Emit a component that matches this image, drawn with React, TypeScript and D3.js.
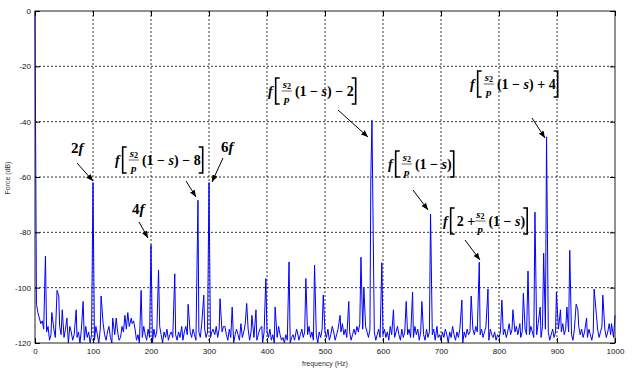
import React, { useEffect, useRef } from "react"
import * as d3 from "d3"

const width = 641
const height = 370

// axis ticks
const xTicks = [0, 100, 200, 300, 400, 500, 600, 700, 800, 900, 1000]
const yTicks = [0, -20, -40, -60, -80, -100, -120]

// noise floor, one value every 2.5 Hz from 0 to 1000 Hz (dB), 20 values per row = 50 Hz
const noiseStep = 2.5
const noiseFloor = [
	-104, -106, -109, -111, -113, -112, -115, -118, -116, -114, -119, -117, -113, -115, -118, -120, -116, -114, -117, -119,
	-118, -115, -117, -120, -114, -116, -119, -117, -113, -118, -116, -120, -115, -117, -119, -114, -118, -116, -120, -117,
	-116, -119, -114, -117, -120, -115, -118, -113, -117, -119, -116, -114, -118, -120, -115, -117, -113, -116, -119, -118,
	-114, -116, -113, -115, -112, -114, -116, -113, -117, -115, -119, -117, -120, -116, -118, -114, -117, -119, -115, -118,
	-117, -120, -115, -118, -116, -119, -114, -117, -120, -116, -118, -115, -119, -117, -116, -118, -114, -117, -119, -116,
	-118, -115, -119, -116, -114, -117, -113, -116, -118, -115, -117, -119, -114, -116, -118, -113, -117, -115, -118, -116,
	-115, -118, -116, -119, -117, -114, -118, -115, -120, -116, -118, -114, -117, -119, -115, -118, -116, -120, -117, -115,
	-117, -119, -115, -118, -116, -113, -117, -115, -119, -116, -114, -118, -116, -119, -117, -115, -118, -120, -116, -114,
	-116, -118, -115, -119, -117, -120, -116, -118, -114, -117, -119, -118, -120, -117, -119, -116, -120, -118, -117, -119,
	-118, -116, -119, -117, -115, -118, -116, -120, -117, -114, -118, -116, -119, -115, -117, -120, -116, -118, -115, -117,
	-116, -118, -115, -119, -117, -114, -116, -119, -117, -115, -118, -116, -113, -117, -115, -118, -114, -116, -119, -117,
	-115, -117, -114, -116, -113, -117, -115, -118, -114, -116, -118, -115, -117, -114, -116, -119, -117, -115, -118, -116,
	-117, -115, -118, -116, -119, -114, -117, -115, -118, -116, -114, -117, -119, -115, -118, -116, -113, -117, -115, -118,
	-116, -118, -114, -117, -115, -119, -116, -114, -117, -119, -115, -118, -116, -120, -117, -115, -119, -116, -118, -117,
	-119, -116, -118, -115, -117, -120, -116, -118, -114, -117, -119, -116, -118, -115, -117, -120, -116, -118, -115, -117,
	-116, -118, -115, -117, -114, -116, -119, -117, -115, -118, -116, -114, -117, -119, -115, -117, -118, -116, -119, -117,
	-118, -116, -119, -117, -115, -118, -116, -113, -117, -115, -118, -116, -114, -117, -115, -118, -116, -113, -115, -117,
	-115, -117, -114, -116, -118, -115, -117, -113, -116, -118, -114, -117, -115, -118, -116, -119, -117, -115, -118, -116,
	-117, -115, -118, -116, -113, -117, -115, -118, -116, -114, -117, -119, -115, -118, -116, -114, -117, -115, -118, -116,
	-116, -118, -115, -117, -119, -116, -114, -117, -115, -118, -116, -114, -117, -115, -118, -116, -113, -117, -115, -118,
	-110,
]

// spectral peaks [frequency Hz, level dB]
const peaks: [number, number][] = [
	[0, 0], [18, -88.6], [29, -109], [38, -101], [41, -103], [47, -108], [55, -111], [71, -108], [83, -105],
	[100, -62], [114, -103], [134, -111], [140, -111], [155, -110], [160, -109], [166, -111], [170, -112],
	[183, -101], [200, -84.5], [213, -93.6], [241, -95], [253, -114], [264, -106], [281, -68.4], [291, -102.7],
	[300, -62], [307, -115], [319, -104], [325, -114], [340, -107], [355, -113], [365, -105.7], [374, -110],
	[381, -108], [391, -114], [398, -96.7], [414, -107], [438, -90.7], [451, -115], [467, -96.7], [482, -91.8],
	[497, -102.7], [526, -110], [541, -105], [562, -89], [567, -100], [579, -60], [581, -39.5], [583, -78],
	[598, -91], [618, -108], [640, -105], [651, -101.6], [667, -105], [682, -73.4], [693, -114], [736, -104.5],
	[752, -103], [766, -90.8], [781, -100.5], [805, -104.5], [824, -108], [836, -113], [842, -102], [850, -94],
	[862, -72.7], [871, -107], [877, -87.5], [882, -45.5], [899, -101.6], [906, -108], [917, -107], [922, -86.5],
	[933, -106], [936, -108], [951, -111], [964, -100.5], [968, -110], [979, -102.7], [994, -113], [1000, -110],
]

// annotation labels: harmonic tags and formula tags
const simpleLabels = [
	{ num: "2", x: 71, y: 153, from: [77, 163], to: [93, 181] },
	{ num: "4", x: 132, y: 214, from: [139, 222], to: [148, 238] },
	{ num: "6", x: 221, y: 152, from: [223, 158], to: [212, 182] },
]
const formulaLabels = [
	{ prefix: "", tail: ["(1 − ", "s", ") − 8"], x: 115, y: 160, from: [186, 181], to: [196, 197] },
	{ prefix: "", tail: ["(1 − ", "s", ") − 2"], x: 268, y: 91, from: [338, 110], to: [368, 137] },
	{ prefix: "", tail: ["(1 − ", "s", ")"], x: 388, y: 164, from: [413, 190], to: [428, 210] },
	{ prefix: "2 + ", tail: ["(1 − ", "s", ")"], x: 443, y: 221, from: [465, 240], to: [480, 260] },
	{ prefix: "", tail: ["(1 − ", "s", ") + 4"], x: 470, y: 84, from: [532, 118], to: [545, 138] },
]

const App = () => {
	const ref = useRef<SVGSVGElement>(null)

	useEffect(() => {
		const marginLeft = 35
		const marginRight = 26
		const marginTop = 11
		const marginBottom = 27

		const x = d3.scaleLinear().domain([0, 1000]).range([marginLeft, width - marginRight])
		const y = d3.scaleLinear().domain([-120, 0]).range([height - marginBottom, marginTop])

		const svg = d3.select(ref.current)
		svg.selectAll("*").remove()

		svg
			.append("defs")
			.append("marker")
			.attr("id", "arrow")
			.attr("viewBox", "0 0 10 10")
			.attr("refX", 10)
			.attr("refY", 5)
			.attr("markerWidth", 7)
			.attr("markerHeight", 7)
			.attr("orient", "auto")
			.append("path")
			.attr("d", "M0,1L10,5L0,9Z")
			.attr("fill", "#000")

		svg.append("rect").attr("width", width).attr("height", height).attr("fill", "#fff")

		// grid lines
		const grid = svg.append("g").attr("stroke", "#000").attr("stroke-width", 0.8).attr("stroke-dasharray", "2,2")
		grid
			.selectAll("line.v")
			.data(xTicks.slice(1, -1))
			.join("line")
			.attr("x1", d => x(d))
			.attr("x2", d => x(d))
			.attr("y1", y(0))
			.attr("y2", y(-120))
		grid
			.selectAll("line.h")
			.data(yTicks.slice(1, -1))
			.join("line")
			.attr("class", "h")
			.attr("x1", x(0))
			.attr("x2", x(1000))
			.attr("y1", d => y(d))
			.attr("y2", d => y(d))

		// spectrum: noise samples merged with the peaks
		const noisePts: [number, number][] = noiseFloor
			.map((v, i) => [i * noiseStep, v] as [number, number])
			.filter(([f]) => !peaks.some(p => Math.abs(p[0] - f) < 1.5))
		const spectrum = [...noisePts, ...peaks].sort((a, b) => a[0] - b[0])

		const line = d3
			.line<[number, number]>()
			.x(d => x(d[0]))
			.y(d => y(d[1]))

		svg
			.append("path")
			.datum(spectrum)
			.attr("d", line)
			.attr("fill", "none")
			.attr("stroke", "#0000ff")
			.attr("stroke-width", 1)

		// frame and ticks
		svg
			.append("rect")
			.attr("x", x(0))
			.attr("y", y(0))
			.attr("width", x(1000) - x(0))
			.attr("height", y(-120) - y(0))
			.attr("fill", "none")
			.attr("stroke", "#222")
			.attr("stroke-width", 1)

		const xAxis = svg
			.append("g")
			.attr("transform", `translate(0,${y(-120)})`)
			.call(d3.axisBottom(x).tickValues(xTicks).tickSize(-5).tickPadding(5).tickFormat(d => String(d)))
		const yAxis = svg
			.append("g")
			.attr("transform", `translate(${x(0)},0)`)
			.call(d3.axisLeft(y).tickValues(yTicks).tickSize(-5).tickPadding(4).tickFormat(d => String(d)))
		svg
			.append("g")
			.attr("transform", `translate(0,${y(0)})`)
			.call(d3.axisTop(x).tickValues(xTicks).tickSize(-5).tickFormat(() => ""))
		svg
			.append("g")
			.attr("transform", `translate(${x(1000)},0)`)
			.call(d3.axisRight(y).tickValues(yTicks).tickSize(-5).tickFormat(() => ""))

		svg.selectAll(".domain").remove()
		for (const ax of [xAxis, yAxis]) {
			ax.selectAll("text")
				.style("font-family", "Liberation Sans")
				.style("font-size", "8px")
				.attr("fill", "#111")
		}

		svg
			.append("text")
			.attr("x", 325)
			.attr("y", 366)
			.attr("text-anchor", "middle")
			.style("font-family", "Liberation Sans")
			.style("font-size", "7px")
			.attr("fill", "#333")
			.text("frequency (Hz)")

		svg
			.append("text")
			.attr("transform", "translate(10,178) rotate(-90)")
			.attr("text-anchor", "middle")
			.style("font-family", "Liberation Sans")
			.style("font-size", "7px")
			.attr("fill", "#333")
			.text("Force (dB)")

		// annotations
		const notes = svg
			.append("g")
			.style("font-family", "Liberation Serif")
			.style("font-weight", "bold")
			.attr("fill", "#000")

		const arrow = (from: number[], to: number[]) =>
			notes
				.append("line")
				.attr("x1", from[0])
				.attr("y1", from[1])
				.attr("x2", to[0])
				.attr("y2", to[1])
				.attr("stroke", "#000")
				.attr("stroke-width", 1)
				.attr("marker-end", "url(#arrow)")

		simpleLabels.forEach(l => {
			const t = notes.append("text").attr("x", l.x).attr("y", l.y).style("font-size", "15px")
			t.append("tspan").text(l.num)
			t.append("tspan").style("font-style", "italic").text("f")
			arrow(l.from, l.to)
		})

		formulaLabels.forEach(l => {
			const g = notes.append("g")
			const cy = l.y
			const base = cy + 5
			let cx = l.x
			const f = g
				.append("text")
				.attr("x", cx)
				.attr("y", base)
				.style("font-size", "14px")
				.style("font-style", "italic")
				.text("f")
			cx += (f.node() as SVGTextElement).getComputedTextLength() + 3
			const bh = 13
			g.append("path")
				.attr("d", `M${cx + 4},${cy - bh}H${cx}V${cy + bh}H${cx + 4}`)
				.attr("fill", "none")
				.attr("stroke", "#000")
				.attr("stroke-width", 1.6)
			cx += 6
			if (l.prefix) {
				const p = g.append("text").attr("x", cx).attr("y", base).style("font-size", "14px").text(l.prefix)
				cx += (p.node() as SVGTextElement).getComputedTextLength()
			}
			const num = g.append("text").attr("y", cy - 3.5).style("font-size", "11px")
			num.append("tspan").style("font-style", "italic").text("s")
			num.append("tspan").attr("dy", 1.5).style("font-size", "8px").text("2")
			const den = g
				.append("text")
				.attr("y", cy + 11.5)
				.style("font-size", "11px")
				.style("font-style", "italic")
				.text("p")
			const fw = Math.max(
				(num.node() as SVGTextElement).getComputedTextLength(),
				(den.node() as SVGTextElement).getComputedTextLength(),
			)
			num.attr("x", cx + 1)
			den.attr("x", cx + 1 + (fw - (den.node() as SVGTextElement).getComputedTextLength()) / 2)
			g.append("line")
				.attr("x1", cx)
				.attr("x2", cx + fw + 2)
				.attr("y1", cy)
				.attr("y2", cy)
				.attr("stroke", "#000")
				.attr("stroke-width", 0.6)
			cx += fw + 5
			const tail = g.append("text").attr("x", cx).attr("y", base).style("font-size", "14px")
			tail.append("tspan").text(l.tail[0])
			tail.append("tspan").style("font-style", "italic").text(l.tail[1])
			tail.append("tspan").text(l.tail[2])
			cx += (tail.node() as SVGTextElement).getComputedTextLength() + 2
			g.append("path")
				.attr("d", `M${cx - 4},${cy - bh}H${cx}V${cy + bh}H${cx - 4}`)
				.attr("fill", "none")
				.attr("stroke", "#000")
				.attr("stroke-width", 1.6)
			arrow(l.from, l.to)
		})
	}, [])

	return (
		<svg
			ref={ref}
			width={width}
			height={height}
			style={{ position: "absolute", left: 0, top: 0, display: "block" }}
		></svg>
	)
}

export default App
